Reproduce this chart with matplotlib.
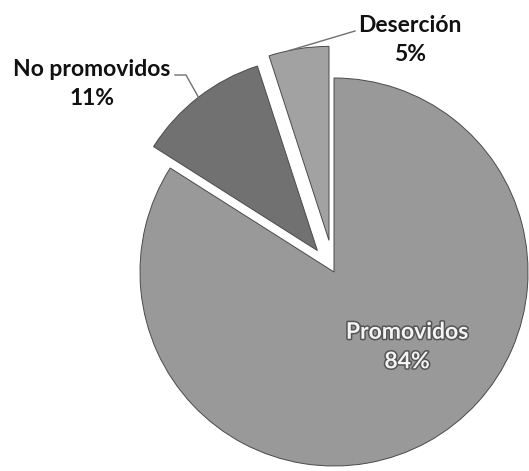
import numpy as np
import matplotlib
matplotlib.use("Agg")
import matplotlib.pyplot as plt
import matplotlib.patheffects as pe

categories = ["Promovidos", "No promovidos", "Deserción"]
percentages = [84, 11, 5]
colors = ["#999999", "#717171", "#a2a2a2"]
explode_frac = [0.0, 0.14, 0.165]

W, H = 529, 471
fig = plt.figure(figsize=(W / 100, H / 100), dpi=100)
ax = fig.add_axes([0, 0, 1, 1])

center = (334, H - 272)
radius = 194

# pie() offsets exploded wedges in data units, so scale by the radius
wedges, _ = ax.pie(
    percentages,
    colors=colors,
    explode=[f * radius for f in explode_frac],
    startangle=90,
    counterclock=False,
    center=center,
    radius=radius,
    frame=True,
    wedgeprops=dict(edgecolor="#4a4a4a", linewidth=0.7),
)
ax.set_xlim(0, W)
ax.set_ylim(0, H)
ax.set_aspect("equal")
ax.axis("off")

font = dict(family=["Lato", "DejaVu Sans"], fontweight="bold", fontsize=16.5)


def arc_mid(w, shift=0.0):
    a = np.deg2rad((w.theta1 + w.theta2) / 2 + shift)
    cx, cy = w.center
    return cx + w.r * np.cos(a), cy + w.r * np.sin(a)


# Promovidos label inside the slice
ax.text(407, H - 347, f"{categories[0]}\n{percentages[0]}%", ha="center", va="center",
        color="#f4f4f4", linespacing=1.5,
        path_effects=[pe.withStroke(linewidth=2.2, foreground="#555555")], **font)

# No promovidos label with leader line
ax.text(92, H - 84, f"{categories[1]}\n{percentages[1]}%", ha="center", va="center",
        color="#111111", linespacing=1.5, **font)
x1, y1 = arc_mid(wedges[1])
ax.plot([175, 186, x1], [H - 75, H - 75, y1], color="#707070", lw=1.0)

# Deserción label with leader line
ax.text(410, H - 40, f"{categories[2]}\n{percentages[2]}%", ha="center", va="center",
        color="#111111", linespacing=1.5, **font)
x2, y2 = arc_mid(wedges[2], shift=2.5)
ax.plot([355, x2], [H - 31, y2], color="#707070", lw=1.0)

fig.savefig("out.png", dpi=100, facecolor="white")
